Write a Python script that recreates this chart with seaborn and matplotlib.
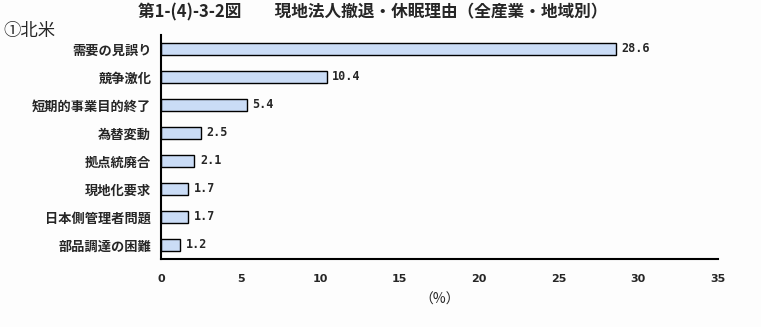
import matplotlib
matplotlib.use("Agg")
import matplotlib.pyplot as plt
import seaborn as sns
import pandas as pd
import numpy as np

categories = ["需要の見誤り", "競争激化", "短期的事業目的終了", "為替変動",
              "拠点統廃合", "現地化要求", "日本側管理者問題", "部品調達の困難"]
values = [28.6, 10.4, 5.4, 2.5, 2.1, 1.7, 1.7, 1.2]
xticks = [0, 5, 10, 15, 20, 25, 30, 35]

sns.set_theme(style="white")
plt.rcParams['font.family'] = ['Noto Sans CJK JP', 'DejaVu Sans']

df = pd.DataFrame({"cat": categories, "val": values})

fig = plt.figure(figsize=(7.61, 3.27), dpi=100)
fig.patch.set_facecolor("#fdfdfd")
ax = fig.add_axes([0.2116, 0.208, 0.9435 - 0.2116, 0.893 - 0.208])
ax.set_facecolor("#fdfdfd")

sns.barplot(data=df, y="cat", x="val", orient="h", color="#cadcf6",
            edgecolor="black", linewidth=1.0, width=0.42, ax=ax, saturation=1)

for i, v in enumerate(values):
    ax.text(v + 0.35, i, f"{v:.1f}", va="center", ha="left",
            fontsize=8.5, fontweight="bold", family="DejaVu Sans Mono")

ax.set_xlim(0, 35)
ax.set_ylim(len(categories) - 0.5, -0.5)
ax.set_xticks(xticks)
ax.set_xticklabels([str(t) for t in xticks], fontsize=8, fontweight="bold",
                   family="DejaVu Sans")
ax.set_yticks(range(len(categories)))
ax.set_yticklabels(categories, fontsize=9.5, fontweight="bold")
ax.set_yticks(np.arange(-0.5, len(categories), 1.0), minor=True)
ax.tick_params(axis="y", which="major", length=0, pad=7)
ax.tick_params(axis="y", which="minor", direction="in", length=4, width=1.5, color="black")
ax.tick_params(axis="x", which="major", direction="in", length=3, width=1.2, color="black", pad=11)
ax.set_xlabel("（%）", fontsize=10, labelpad=6)
ax.set_ylabel("")
for s in ["top", "right"]:
    ax.spines[s].set_visible(False)
for s in ["left", "bottom"]:
    ax.spines[s].set_color("black")
    ax.spines[s].set_linewidth(1.5)

fig.text(0.49, 0.962, "第1-(4)-3-2図　　現地法人撤退・休眠理由（全産業・地域別）",
         ha="center", va="center", fontsize=12, fontweight="bold")
fig.text(0.004, 0.905, "①北米", ha="left", va="center", fontsize=12.5)

fig.savefig("out.png", dpi=100, facecolor=fig.get_facecolor())
